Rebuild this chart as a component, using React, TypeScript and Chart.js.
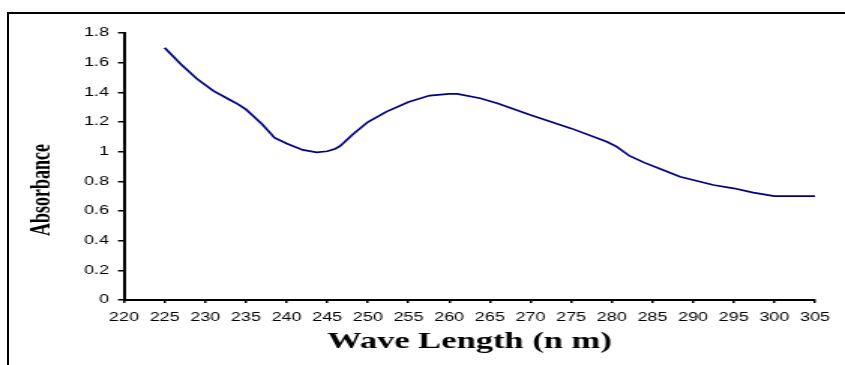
import React, { useEffect, useRef } from "react";
import { Chart, registerables } from "chart.js";

Chart.register(...registerables);

const wavelengths = [
  225, 227, 229, 231, 233, 234, 235, 236, 237, 238, 238.5, 240, 242, 243.7, 245,
  246, 246.6, 248.2, 250, 252.3, 255, 257.6, 260, 261, 263.8, 266, 270, 275,
  279.4, 280.6, 282.2, 284, 286, 288.4, 292.5, 295, 297.4, 300, 305,
];
const absorbance = [
  1.7, 1.59, 1.49, 1.41, 1.35, 1.32, 1.285, 1.235, 1.185, 1.125, 1.095, 1.055,
  1.012, 0.995, 1.003, 1.02, 1.038, 1.119, 1.2, 1.27, 1.335, 1.378, 1.39, 1.39,
  1.36, 1.325, 1.247, 1.157, 1.067, 1.034, 0.971, 0.926, 0.883, 0.831, 0.775,
  0.753, 0.724, 0.7, 0.7,
];
const xRange = [220, 305];
const yRange = [0, 1.8];
const xTitle = "Wave Length (n m)";
const yTitle = "Absorbance";

const CANVAS_W = 563;
const CANVAS_H = 365;

export default function App() {
  const ref = useRef<HTMLCanvasElement | null>(null);

  useEffect(() => {
    if (!ref.current) return;
    const yTitlePlugin = {
      id: "yTitlePlugin",
      afterDraw(chart: any) {
        const ctx = chart.ctx;
        ctx.save();
        ctx.translate(28, 190);
        ctx.rotate(-Math.PI / 2);
        ctx.font = 'bold 18px "Liberation Serif", "Times New Roman", serif';
        ctx.fillStyle = "#000";
        ctx.textAlign = "center";
        ctx.textBaseline = "middle";
        ctx.fillText(yTitle, 0, 0);
        ctx.restore();
      },
    };
    const chart = new Chart(ref.current, {
      type: "scatter",
      data: {
        datasets: [
          {
            data: wavelengths.map((w, i) => ({ x: w, y: absorbance[i] })),
            showLine: true,
            borderColor: "#000080",
            backgroundColor: "#000080",
            borderWidth: 1.7,
            pointRadius: 0,
            tension: 0,
          },
        ],
      },
      options: {
        responsive: false,
        animation: false,
        devicePixelRatio: 1,
        layout: { padding: { top: 33, right: 20, left: 0, bottom: 0 } },
        plugins: {
          legend: { display: false },
          tooltip: { enabled: false },
        },
        scales: {
          x: {
            type: "linear",
            min: xRange[0],
            max: xRange[1],
            afterFit(scale: any) {
              scale.height = 65;
            },
            border: { color: "#000", width: 2 },
            grid: {
              drawOnChartArea: false,
              drawTicks: true,
              tickLength: 3,
              color: "#000",
              lineWidth: 1.5,
            },
            ticks: {
              stepSize: 5,
              autoSkip: false,
              maxRotation: 0,
              minRotation: 0,
              padding: 7,
              color: "#000",
              font: { family: '"Liberation Sans", Arial, sans-serif', size: 12 },
            },
            title: {
              display: true,
              text: xTitle,
              color: "#000",
              font: {
                family: '"Liberation Serif", "Times New Roman", serif',
                size: 23,
                weight: "bold",
              },
              padding: { top: 0, bottom: 9 },
            },
          },
          y: {
            type: "linear",
            min: yRange[0],
            max: yRange[1],
            afterFit(scale: any) {
              scale.width = 82.6;
            },
            border: { color: "#000", width: 2 },
            grid: {
              drawOnChartArea: false,
              drawTicks: true,
              tickLength: 4,
              color: "#000",
              lineWidth: 1.5,
            },
            ticks: {
              stepSize: 0.2,
              padding: 6,
              color: "#000",
              font: { family: '"Liberation Sans", Arial, sans-serif', size: 12 },
              callback: (v: any) => String(Number(Number(v).toFixed(1))),
            },
          },
        },
      },
      plugins: [yTitlePlugin],
    });
    return () => chart.destroy();
  }, []);

  return (
    <div style={{ position: "absolute", left: 0, top: 0, width: 845, height: 365, overflow: "hidden", background: "#fff" }}>
      <div
        style={{
          position: "absolute",
          left: 7,
          top: 12,
          width: 838,
          height: 353,
          boxSizing: "border-box",
          borderTop: "2px solid #000",
          borderLeft: "2px solid #000",
        }}
      />
      <canvas
        ref={ref}
        width={CANVAS_W}
        height={CANVAS_H}
        style={{ position: "absolute", left: 0, top: 0, width: "845px", height: "365px" }}
      />
    </div>
  );
}
